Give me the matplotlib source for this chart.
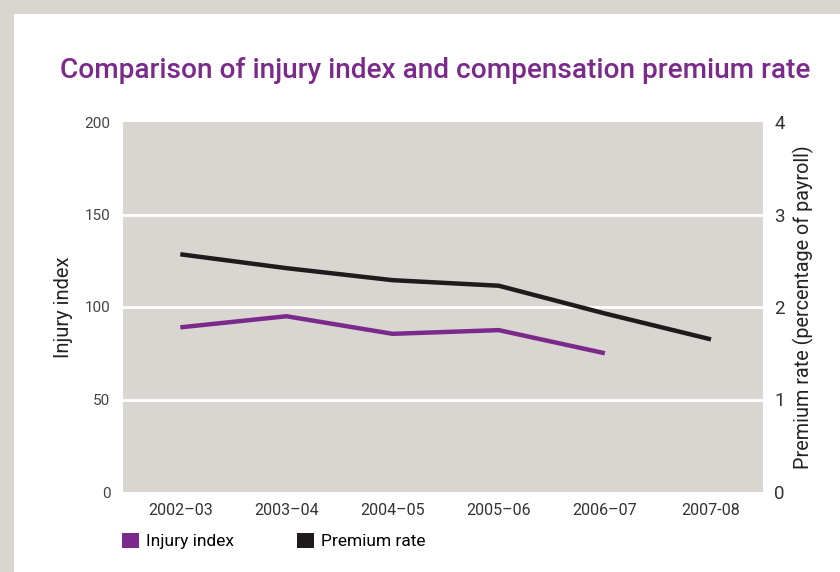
import matplotlib.pyplot as plt
from matplotlib.patches import Patch, Rectangle

years = ["2002–03", "2003–04", "2004–05", "2005–06", "2006–07", "2007-08"]
injury_index = [89, 95, 85.5, 87.5, 75]
premium_rate = [2.57, 2.42, 2.29, 2.23, 1.93, 1.65]

purple = "#7b2a8c"
black = "#1e1b1c"
plot_bg = "#d9d5d0"

plt.rcParams['font.family'] = ['Roboto', 'DejaVu Sans']

fig = plt.figure(figsize=(8.4, 5.72), dpi=100)
fig.patch.set_facecolor("#d8d4ce")
fig.patches.append(Rectangle((14/840, 0), 1, 1 - 14/572, transform=fig.transFigure,
                             facecolor="white", edgecolor="none", zorder=-10))

ax = fig.add_axes([123/840, 1 - 492/572, 640/840, 370/572])
ax.set_facecolor(plot_bg)
ax2 = ax.twinx()

x = list(range(len(years)))
ax.set_xlim(-0.54, 5.49)
ax.set_ylim(0, 200)
ax2.set_ylim(0, 4)

for y in [50, 100, 150]:
    ax.axhline(y, color="white", lw=2, zorder=1)

ax.plot(x[:len(injury_index)], injury_index, color=purple, lw=3.2, zorder=3,
        solid_capstyle='butt')
ax2.plot(x, premium_rate, color=black, lw=3.2, zorder=3, solid_capstyle='butt')

for a in (ax, ax2):
    for s in a.spines.values():
        s.set_visible(False)

ax.set_yticks([0, 50, 100, 150, 200])
ax.tick_params(axis='y', length=0, pad=9, labelsize=11, labelcolor="#444444")
ax2.set_yticks([0, 1, 2, 3, 4])
ax2.tick_params(axis='y', length=0, pad=8, labelsize=13.5, labelcolor="#333333")
ax.set_xticks(x)
ax.set_xticklabels(years)
ax.tick_params(axis='x', length=0, pad=8, labelsize=11.5, labelcolor="#333333")

ax.set_ylabel("Injury index", fontsize=14.5, color="#222222", labelpad=8)
ax2.set_ylabel("Premium rate (percentage of payroll)", fontsize=14.2, color="#222222",
               labelpad=6)

fig.text(60/840, 1 - 78/572, "Comparison of injury index and compensation premium rate",
         fontsize=20.2, color=purple, fontweight='medium', ha='left', va='baseline')

handles = [Patch(facecolor=purple, edgecolor='none', label="Injury index"),
           Patch(facecolor=black, edgecolor='none', label="Premium rate")]
ax.legend(handles=handles, loc='upper left', bbox_to_anchor=(-0.002, -0.11), ncol=2,
          frameon=False, handlelength=1.0, handleheight=1.0, handletextpad=0.4,
          columnspacing=3.6, fontsize=12.5, borderaxespad=0, borderpad=0)

fig.savefig("out.png", dpi=100, facecolor=fig.get_facecolor())
